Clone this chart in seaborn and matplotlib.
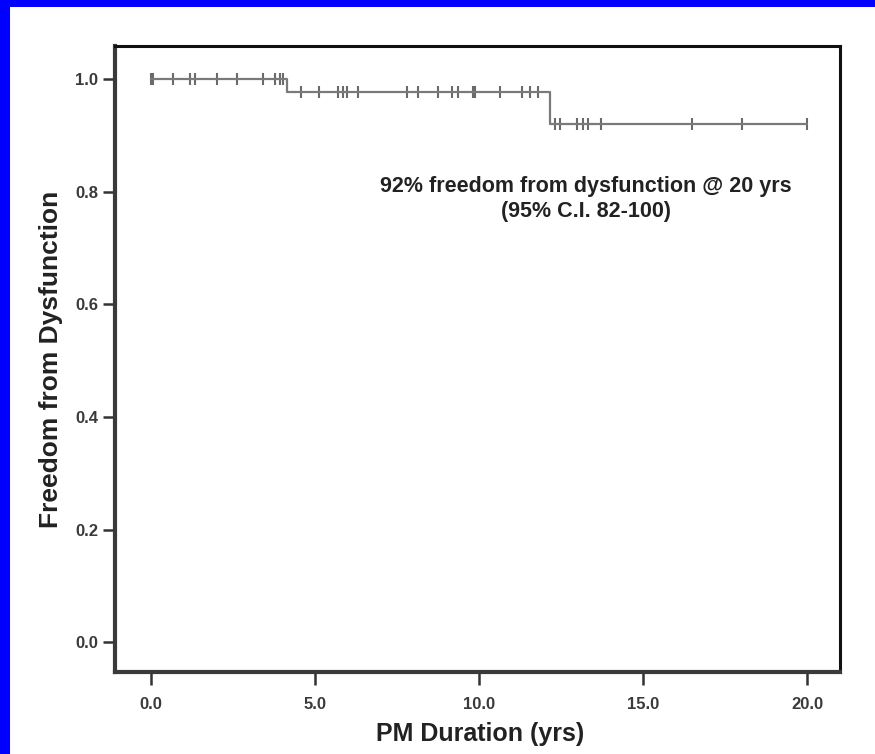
import matplotlib
matplotlib.use("Agg")
import matplotlib.pyplot as plt
from matplotlib.patches import Rectangle
import seaborn as sns
import pandas as pd

# Kaplan-Meier step values
step_time = [0.0, 4.15, 12.15, 20.0]
step_surv = [1.0, 0.978, 0.92, 0.92]

# censored observations (years) for each plateau
cens_1 = [0.0, 0.05, 0.67, 1.19, 1.34, 2.01, 2.62, 3.41, 3.78, 3.93, 4.02]
cens_2 = [4.57, 5.12, 5.70, 5.85, 5.98, 6.31, 7.80, 8.14, 8.75, 9.18, 9.36,
          9.80, 9.88, 10.64, 11.30, 11.55, 11.80]
cens_3 = [12.30, 12.47, 12.99, 13.17, 13.32, 13.72, 16.5, 18.0, 20.0]

x_ticks = [0.0, 5.0, 10.0, 15.0, 20.0]
y_ticks = [0.0, 0.2, 0.4, 0.6, 0.8, 1.0]

sns.set_style("white")
plt.rcParams['font.family'] = ['Liberation Sans', 'DejaVu Sans']

fig = plt.figure(figsize=(8.75, 7.54), dpi=100)
fig.patch.set_facecolor("#0000ff")
fig.patches.append(Rectangle((10 / 875, 0), 1, 1 - 7 / 754, transform=fig.transFigure,
                             facecolor="white", edgecolor="none", zorder=-10))
ax = fig.add_axes([115 / 875, 1 - 672 / 754, 725 / 875, 626 / 754])

curve = pd.DataFrame({"t": step_time, "s": step_surv})
sns.lineplot(data=curve, x="t", y="s", drawstyle="steps-post", color="#7a7a7a",
             linewidth=1.6, ax=ax)

cens = pd.DataFrame({
    "t": cens_1 + cens_2 + cens_3,
    "s": [1.0] * len(cens_1) + [0.978] * len(cens_2) + [0.92] * len(cens_3),
})
sns.scatterplot(data=cens, x="t", y="s", marker="|", s=70, linewidth=1.5,
                color="#6a6a6a", ax=ax)

ax.set_xlim(-1.1, 21.0)
ax.set_ylim(-0.053, 1.059)
ax.set_xticks(x_ticks)
ax.set_xticklabels([f"{v:.1f}" for v in x_ticks], fontsize=12, fontweight="bold", color="#3a3a3a")
ax.set_yticks(y_ticks)
ax.set_yticklabels([f"{v:.1f}" for v in y_ticks], fontsize=12, fontweight="bold", color="#3a3a3a")
ax.tick_params(axis="x", bottom=True, direction="out", length=9, width=1.8, color="#333333", pad=9)
ax.tick_params(axis="y", left=True, direction="out", length=9, width=1.8, color="#333333", pad=3)

for side in ["left", "bottom"]:
    ax.spines[side].set_linewidth(3)
    ax.spines[side].set_color("#3a3a3a")
for side in ["top", "right"]:
    ax.spines[side].set_linewidth(2.2)
    ax.spines[side].set_color("#111111")

ax.set_xlabel("PM Duration (yrs)", fontsize=18, fontweight="bold", color="#222222")
ax.set_ylabel("Freedom from Dysfunction", fontsize=19, fontweight="bold", color="#222222")
ax.xaxis.set_label_coords(0.503, -0.08)
ax.yaxis.set_label_coords(-0.072, 0.5)

ax.text(13.25, 0.81, "92% freedom from dysfunction @ 20 yrs", ha="center", va="center",
        fontsize=15.5, fontweight="bold", color="#222222")
ax.text(13.25, 0.765, "(95% C.I. 82-100)", ha="center", va="center",
        fontsize=15.5, fontweight="bold", color="#222222")

fig.savefig("out.png", dpi=100, facecolor=fig.get_facecolor())
